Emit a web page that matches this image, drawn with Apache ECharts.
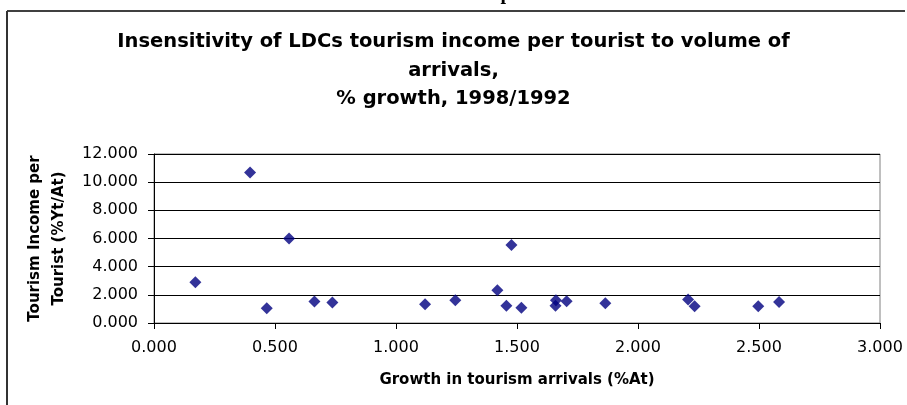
<!DOCTYPE html>
<html>
<head>
<meta charset="utf-8">
<style>
  html, body { margin: 0; padding: 0; background: #ffffff; }
  #chart { width: 907px; height: 405px; }
</style>
<script src="https://cdn.jsdelivr.net/npm/echarts@6/dist/echarts.min.js"></script>
</head>
<body>
<div id="chart"></div>
<script>
// Growth in tourism arrivals (%At)
const arrivalsGrowth = [0.171, 0.397, 0.466, 0.558, 0.663, 0.737, 1.120, 1.245, 1.419, 1.456,
                        1.477, 1.518, 1.659, 1.661, 1.705, 1.865, 2.207, 2.234, 2.497, 2.583];
// Tourism income per tourist (%Yt/At)
const incomePerTourist = [2.90, 10.68, 1.05, 6.00, 1.52, 1.45, 1.33, 1.61, 2.33, 1.23,
                          5.53, 1.09, 1.23, 1.61, 1.54, 1.40, 1.66, 1.19, 1.19, 1.49];
const titleLines = ['Insensitivity of LDCs tourism income per tourist to volume of', 'arrivals,', '% growth, 1998/1992'];
const xAxisTitle = 'Growth in tourism arrivals (%At)';
const yAxisTitle = ['Tourism Income per', 'Tourist (%Yt/At)'];

const points = arrivalsGrowth.map((x, i) => [x, incomePerTourist[i]]);
const font = 'DejaVu Sans, Arial, sans-serif';

const chart = echarts.init(document.getElementById('chart'), null, { renderer: 'canvas' });
chart.setOption({
  animation: false,
  backgroundColor: '#ffffff',
  title: {
    text: titleLines.join('\n'),
    left: 'center',
    top: 23,
    textStyle: { fontFamily: font, fontWeight: 'bold', fontSize: 19.5, color: '#000', lineHeight: 28.5 }
  },
  grid: {
    left: 154, right: 27, top: 154, bottom: 82,
    show: true, borderColor: '#808080', borderWidth: 1, backgroundColor: 'transparent'
  },
  xAxis: {
    type: 'value',
    min: 0, max: 3, interval: 0.5,
    name: xAxisTitle,
    nameLocation: 'middle',
    nameGap: 50,
    nameTextStyle: { fontFamily: font, fontWeight: 'bold', fontSize: 15, color: '#000' },
    axisLine: { show: true, lineStyle: { color: '#000', width: 1 } },
    axisTick: { show: true, inside: false, length: 6, lineStyle: { color: '#000' } },
    axisLabel: { fontFamily: font, fontSize: 16, color: '#000', margin: 17,
                 formatter: v => v.toFixed(3) },
    splitLine: { show: false }
  },
  yAxis: {
    type: 'value',
    min: 0, max: 12, interval: 2,
    name: yAxisTitle.join('\n'),
    nameLocation: 'middle',
    nameGap: 80,
    nameRotate: 90,
    nameTextStyle: { fontFamily: font, fontWeight: 'bold', fontSize: 15, color: '#000', lineHeight: 24 },
    axisLine: { show: true, lineStyle: { color: '#000', width: 1 } },
    axisTick: { show: true, inside: false, length: 6, lineStyle: { color: '#000' } },
    axisLabel: { fontFamily: font, fontSize: 16, color: '#000', margin: 16,
                 formatter: v => v.toFixed(3) },
    splitLine: { show: true, lineStyle: { color: '#000', width: 1 } }
  },
  series: [{
    type: 'scatter',
    data: points,
    symbol: 'diamond',
    symbolSize: 12,
    itemStyle: { color: '#000080' }
  }],
  graphic: [
    { type: 'line', shape: { x1: 7, y1: 11, x2: 905, y2: 11 }, style: { stroke: '#000', lineWidth: 1.5 } },
    { type: 'line', shape: { x1: 7, y1: 11, x2: 7, y2: 405 }, style: { stroke: '#333', lineWidth: 2 } },
    { type: 'text', x: 506, y: 4, style: { text: 'p', font: 'bold 20px Liberation Serif, serif', fill: '#000', align: 'center', verticalAlign: 'bottom' } }
  ]
});
</script>
</body>
</html>
